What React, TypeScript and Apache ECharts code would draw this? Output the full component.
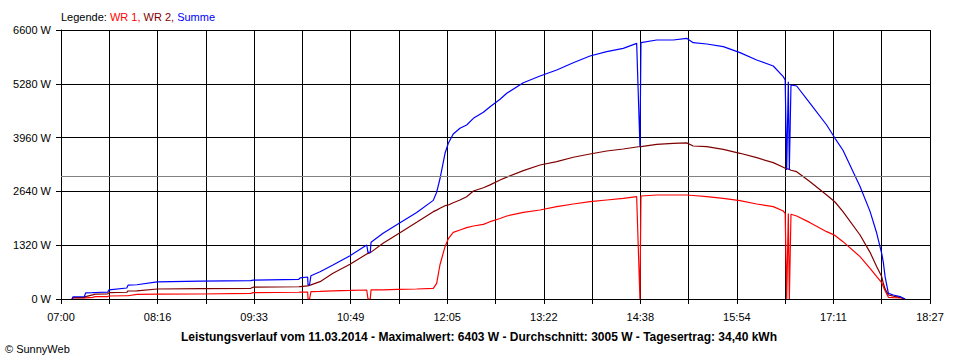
import React, { useEffect, useRef } from "react";
import * as echarts from "echarts";

// minutes after 07:00
const TIME = [
  8.7, 9.5, 18.5, 19.5, 25, 27, 37, 38, 52, 53, 60, 76, 110, 150, 152, 188, 189, 195, 195.3, 196.5,
  197.6, 204.8, 215, 228.5, 241.7, 242.7, 244.5, 245.1, 254.6, 266.4, 281.2, 294.3, 297, 299.6,
  303.6, 306.2, 310.1, 315.4, 320.7, 326, 333.9, 339.2, 347.1, 352.4, 365.5, 378.7, 391.9, 405,
  418.2, 431.4, 444.5, 455.1, 456.4, 457.7, 458.5, 470.9, 484, 494.6, 499.8, 510.5, 523.6, 536.8,
  550, 563.1, 571, 572.5, 573.7, 575, 575.8, 577.1, 581.6, 592.2, 605.3, 611.9, 618.2, 631.7,
  639.6, 644.9, 648.8, 650.1, 651.5, 654.1, 658.1, 663.3, 667.3,
];
const WR1 = [
  0, 25, 25, 30, 40, 57, 60, 74, 80, 80, 115, 120, 123, 140, 155, 165, 170, 172, 0, 0,
  180, 185, 200, 210, 221, 0, 0, 225, 225, 235, 245, 262, 385, 840,
  1283, 1480, 1636, 1693, 1750, 1791, 1830, 1897, 1975, 2036, 2127, 2184, 2266, 2331,
  2388, 2429, 2470, 2510, 1244, 0, 2527, 2552, 2552, 2552, 2540, 2510, 2470, 2412,
  2331, 2266, 2159, 2102, 0, 2100, 0, 2080, 2036, 1873, 1652, 1560, 1407, 1039,
  753, 548, 400, 302, 200, 42, 35, 30, 0,
];
const WR2 = [
  0, 33, 33, 60, 100, 120, 125, 155, 165, 196, 200, 245, 255, 262, 290, 300, 305, 320, 330, 335,
  345, 425, 630, 851, 1104, 1120, 1135, 1150, 1367, 1595, 1882, 2143, 2180, 2225,
  2290, 2306, 2360, 2429, 2510, 2650, 2730, 2800, 2920, 2990, 3150, 3288, 3369, 3477,
  3558, 3631, 3680, 3730, 3735, 3737, 3740, 3795, 3820, 3830, 3754, 3737, 3673, 3575,
  3468, 3345, 3231, 3207, 3200, 3190, 3180, 3160, 3124, 2879, 2552, 2380, 2143, 1570,
  1145, 793, 550, 385, 250, 98, 70, 42, 0,
];
const SUMME = [
  0, 55, 60, 150, 155, 160, 170, 225, 270, 340, 350, 420, 440, 450, 465, 480, 520, 540, 345, 350,
  572, 670, 834, 1063, 1325, 1136, 1150, 1391, 1612, 1840, 2120, 2420, 2620, 2950,
  3575, 3820, 4048, 4188, 4269, 4433, 4580, 4718, 4900, 5047, 5307, 5471, 5619, 5798,
  5962, 6068, 6150, 6273, 5005, 3737, 6290, 6355, 6355, 6396, 6290, 6257, 6191, 6044,
  5864, 5717, 5455, 5373, 3165, 5332, 3165, 5250, 5226, 4801, 4269, 3943, 3650, 2760,
  2150, 1612, 1121, 900, 548, 139, 98, 60, 0,
];
const AVERAGE = 3005;
const X_TICK_LABELS = ["07:00", "08:16", "09:33", "10:49", "12:05", "13:22", "14:38", "15:54", "17:11", "18:27"];
const X_MAX_SEC = 41220; // 07:00 -> 18:27
const X_STEP_SEC = 2290;
const Y_MAX = 6600;
const Y_STEP = 1320;

const TITLE = "Leistungsverlauf vom 11.03.2014 - Maximalwert: 6403 W - Durchschnitt: 3005 W - Tagesertrag: 34,40 kWh";
const FONT = "'Liberation Sans', Arial, sans-serif";

export default function App() {
  const ref = useRef<HTMLDivElement>(null);
  useEffect(() => {
    if (!ref.current) return;
    const chart = echarts.init(ref.current, null, { renderer: "svg" });
    const toData = (vals: number[]) => TIME.map((t, i) => [t * 60, vals[i]]);
    const mkSeries = (name: string, vals: number[], color: string, extra: any = {}) => ({
      name,
      type: "line",
      data: toData(vals),
      showSymbol: false,
      symbol: "none",
      lineStyle: { color, width: 1.2 },
      itemStyle: { color },
      silent: true,
      ...extra,
    });
    chart.setOption({
      animation: false,
      backgroundColor: "#ffffff",
      textStyle: { fontFamily: FONT },
      grid: { left: 61, right: 30, top: 30, bottom: 61, containLabel: false },
      xAxis: {
        type: "value",
        min: 0,
        max: X_MAX_SEC,
        interval: X_STEP_SEC,
        axisLine: { show: true, lineStyle: { color: "#000", width: 1 } },
        axisTick: { show: true, length: 5, lineStyle: { color: "#000", width: 1 } },
        splitLine: { show: true, lineStyle: { color: "#000", width: 1 } },
        axisLabel: {
          color: "#000",
          fontSize: 11,
          fontFamily: FONT,
          margin: 12,
          showMinLabel: true,
          showMaxLabel: true,
          formatter: (v: number) => {
            const i = Math.round(v / X_STEP_SEC);
            return i % 2 === 0 ? X_TICK_LABELS[i / 2] ?? "" : "";
          },
        },
      },
      yAxis: {
        type: "value",
        min: 0,
        max: Y_MAX,
        interval: Y_STEP,
        axisLine: { show: true, lineStyle: { color: "#000", width: 1 } },
        axisTick: { show: true, length: 5, lineStyle: { color: "#000", width: 1 } },
        splitLine: { show: true, lineStyle: { color: "#000", width: 1 } },
        axisLabel: {
          color: "#000",
          fontSize: 11,
          fontFamily: FONT,
          margin: 10,
          formatter: (v: number) => String(Math.round(v)) + " W",
        },
      },
      series: [
        mkSeries("WR 1", WR1, "#ff0000", {
          markLine: {
            silent: true,
            symbol: "none",
            label: { show: false },
            lineStyle: { color: "#808080", type: "solid", width: 1 },
            data: [{ yAxis: AVERAGE }],
          },
        }),
        mkSeries("WR 2", WR2, "#800000"),
        mkSeries("Summe", SUMME, "#0000ff"),
      ],
      graphic: [
        {
          type: "text",
          left: 61,
          top: 11,
          style: {
            text: "{k|Legende: }{a|WR 1, }{b|WR 2, }{c|Summe}",
            rich: {
              k: { fill: "#000", fontSize: 11, fontFamily: FONT },
              a: { fill: "#ff0000", fontSize: 11, fontFamily: FONT },
              b: { fill: "#800000", fontSize: 11, fontFamily: FONT },
              c: { fill: "#0000ff", fontSize: 11, fontFamily: FONT },
            },
          },
        },
        {
          type: "text",
          x: 479,
          y: 337,
          style: {
            text: TITLE,
            fill: "#000",
            fontSize: 12,
            fontWeight: "bold",
            fontFamily: FONT,
            align: "center",
            verticalAlign: "middle",
          },
        },
        {
          type: "text",
          x: 5,
          y: 349,
          style: {
            text: "© SunnyWeb",
            fill: "#000",
            fontSize: 11,
            fontFamily: FONT,
            align: "left",
            verticalAlign: "middle",
          },
        },
      ],
    });
    return () => chart.dispose();
  }, []);
  return <div ref={ref} style={{ position: "fixed", left: 0, top: 0, width: 960, height: 360 }} />;
}
